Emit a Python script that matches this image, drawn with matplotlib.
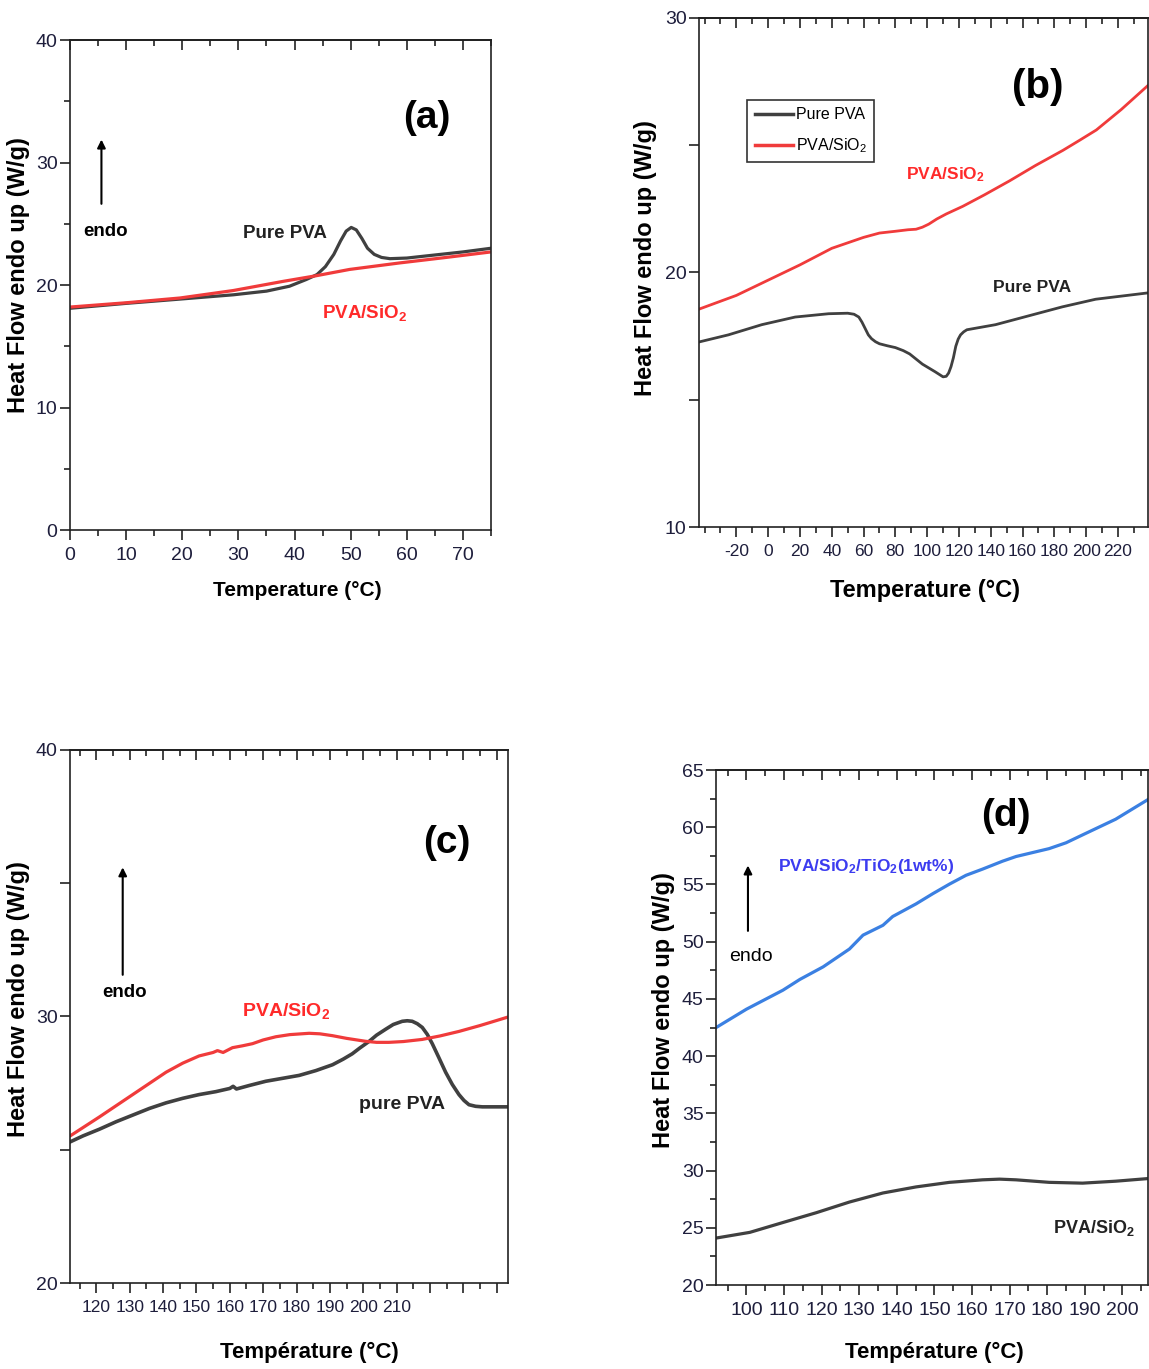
import matplotlib
matplotlib.use('Agg')
import matplotlib.pyplot as plt
from matplotlib.ticker import MultipleLocator, NullFormatter
from matplotlib.lines import Line2D

SANS = ['Liberation Sans', 'DejaVu Sans']
plt.rcParams['font.family'] = SANS
plt.rcParams['mathtext.default'] = 'regular'

# ---- (a) DSC, 0-75 °C ----
a_temp_pva = [0, 10, 19.6, 29.1, 35.0, 39.1, 42.1, 44.0, 45.5, 47.0, 48.2, 49.2, 50.1,
              51.0, 52.0, 53.0, 54.2, 55.5, 57.0, 60.0, 65.0, 70.0, 75.0]
a_hf_pva = [18.1, 18.5, 18.85, 19.2, 19.5, 19.9, 20.45, 20.85, 21.5, 22.5, 23.6, 24.4, 24.7,
            24.5, 23.8, 23.0, 22.5, 22.25, 22.15, 22.2, 22.45, 22.7, 23.0]
a_temp_sio2 = [0, 10, 19.6, 29.1, 38.0, 43.9, 49.8, 58.7, 67.0, 75.0]
a_hf_sio2 = [18.2, 18.55, 18.94, 19.55, 20.3, 20.76, 21.27, 21.8, 22.25, 22.7]
a_xticks = [0, 10, 20, 30, 40, 50, 60, 70]
a_yticks = [0, 10, 20, 30, 40]

# ---- (b) DSC, -40-240 °C ----
b_temp_pva = [-43.5, -25, -4, 17, 38, 50, 54, 57, 59, 61, 63, 65, 67.5, 70, 75, 80, 85, 89,
              93, 97, 101, 105, 108, 110, 112, 113.5, 115, 116.5, 118, 119.5, 121, 123, 125,
              143, 164, 185, 206, 239]
b_hf_pva = [17.27, 17.55, 17.95, 18.25, 18.38, 18.4, 18.36, 18.25, 18.05, 17.8, 17.55, 17.4,
            17.28, 17.2, 17.12, 17.05, 16.93, 16.8, 16.6, 16.4, 16.25, 16.1, 15.98, 15.9,
            15.92, 16.05, 16.3, 16.65, 17.1, 17.38, 17.55, 17.67, 17.75, 17.95, 18.3, 18.65,
            18.95, 19.2]
b_temp_sio2 = [-43.5, -20, 0, 20, 40, 60, 70, 80, 88, 93, 97, 101, 106, 112, 122.4, 136,
               151.8, 168, 185.4, 196, 206.4, 222, 238.9]
b_hf_sio2 = [18.56, 19.1, 19.7, 20.3, 20.95, 21.38, 21.55, 21.62, 21.68, 21.7, 21.78, 21.9,
             22.1, 22.3, 22.6, 23.05, 23.6, 24.2, 24.8, 25.2, 25.6, 26.4, 27.35]
b_xticks = [-20, 0, 20, 40, 60, 80, 100, 120, 140, 160, 180, 200, 220]
b_yticks = [10, 15, 20, 25, 30]
b_ylabels = ['10', '', '20', '', '30']

# ---- (c) DSC, 112-243 °C ----
c_temp_pva = [112.4, 116, 120.9, 125.9, 130.9, 135.9, 140.9, 145.9, 150.8, 155.8, 160, 161,
              162, 165.8, 170.8, 175.8, 180.8, 185.8, 190.8, 194, 196.7, 199, 201.7, 204,
              206.7, 209, 211.7, 213.2, 214.7, 216.2, 217.7, 219.2, 220.7, 222.7, 224.7,
              226.7, 228.7, 230.2, 231.7, 233.7, 235.7, 243.4]
c_hf_pva = [25.31, 25.52, 25.77, 26.05, 26.30, 26.55, 26.76, 26.93, 27.07, 27.18, 27.3, 27.38,
            27.28, 27.41, 27.57, 27.68, 27.79, 27.97, 28.19, 28.4, 28.6, 28.82, 29.06, 29.3,
            29.52, 29.7, 29.82, 29.84, 29.82, 29.73, 29.59, 29.33, 28.98, 28.45, 27.91,
            27.45, 27.07, 26.85, 26.69, 26.63, 26.61, 26.61]
c_temp_sio2 = [112.4, 120.9, 130.9, 140.9, 145.9, 150.8, 155, 156.3, 158, 160.8, 163.8,
               166.8, 170, 173.8, 178, 183.8, 187, 190.8, 195, 200.7, 204, 207.7, 212,
               217.7, 223, 228.7, 235, 243.4]
c_hf_sio2 = [25.54, 26.23, 27.07, 27.91, 28.25, 28.52, 28.65, 28.72, 28.65, 28.83, 28.9,
             28.98, 29.12, 29.24, 29.32, 29.37, 29.35, 29.28, 29.18, 29.07, 29.03, 29.03,
             29.06, 29.14, 29.27, 29.44, 29.66, 29.98]
c_xticks = [120, 130, 140, 150, 160, 170, 180, 190, 200, 210, 220, 230, 240]
c_xlabels = ['120', '130', '140', '150', '160', '170', '180', '190', '200', '210', '', '', '']
c_yticks = [20, 25, 30, 35, 40]
c_ylabels = ['20', '', '30', '', '40']

# ---- (d) DSC, 92-207 °C ----
d_temp_tio2 = [91.9, 100.0, 109.7, 114.2, 120.4, 127.4, 131.0, 136.3, 138.9, 145.1, 149.6,
               154.0, 158.4, 162.8, 168.1, 171.7, 180.5, 185.0, 189.4, 198.2, 206.8]
d_hf_tio2 = [42.49, 44.1, 45.76, 46.7, 47.8, 49.36, 50.57, 51.43, 52.2, 53.3, 54.2, 55.03,
             55.8, 56.34, 57.03, 57.44, 58.13, 58.64, 59.33, 60.7, 62.42]
d_temp_sio2 = [91.9, 100.9, 109.7, 118.6, 127.4, 136.3, 145.1, 154.0, 162.8, 167.3, 171.7,
               180.5, 189.4, 198.2, 206.8]
d_hf_sio2 = [24.1, 24.6, 25.46, 26.32, 27.25, 28.04, 28.57, 28.97, 29.19, 29.25, 29.19,
             28.97, 28.9, 29.07, 29.3]
d_xticks = [100, 110, 120, 130, 140, 150, 160, 170, 180, 190, 200]
d_yticks = [20, 25, 30, 35, 40, 45, 50, 55, 60, 65]

GREY = '#404040'
RED = '#f03b3b'
BLUE = '#3b80e2'
TICK_COLOR = '#1e1e3c'

W, H = 1149, 1369
fig = plt.figure(figsize=(W / 100, H / 100), dpi=100)


def make_axes(left, top, right, bottom):
    return fig.add_axes([left / W, 1 - bottom / H, (right - left) / W, (bottom - top) / H])


def style_axes(ax, xticks, xlabels, xminor, yticks, ylabels, yminor, xsize, ysize=14):
    for side in ['left', 'right', 'top', 'bottom']:
        ax.spines[side].set_linewidth(1.2)
        ax.spines[side].set_color('#222222')
    ax.set_xticks(xticks, labels=xlabels)
    ax.set_yticks(yticks, labels=ylabels)
    ax.xaxis.set_minor_locator(MultipleLocator(xminor))
    ax.yaxis.set_minor_locator(MultipleLocator(yminor))
    ax.tick_params(which='both', direction='out', width=1.2, color='#222222',
                   right=False, top=False, labelcolor=TICK_COLOR, pad=3)
    ax.tick_params(which='major', length=7)
    ax.tick_params(which='minor', length=4)
    ax.tick_params(axis='x', labelsize=xsize, pad=5)
    ax.tick_params(axis='y', labelsize=ysize, pad=2)
    # inward ticks along the top frame
    top = ax.secondary_xaxis('top')
    top.set_xticks(xticks)
    top.xaxis.set_minor_locator(MultipleLocator(xminor))
    top.xaxis.set_major_formatter(NullFormatter())
    top.tick_params(which='both', direction='in', width=1.2, color='#222222')
    top.tick_params(which='major', length=7)
    top.tick_params(which='minor', length=4)
    top.spines['top'].set_linewidth(1.2)


def add_labels(ax, xlabel, xsize, ylab_x, ylab_y, xlab_x, xlab_y):
    ax.set_ylabel('Heat Flow endo up (W/g)', weight='bold', fontsize=17)
    ax.yaxis.set_label_coords(ylab_x, ylab_y)
    ax.set_xlabel(xlabel, weight='bold', fontsize=xsize)
    ax.xaxis.set_label_coords(xlab_x, xlab_y)


def endo_arrow(ax, x, y0, y1):
    ax.annotate('', xy=(x, y1), xytext=(x, y0),
                arrowprops=dict(arrowstyle='-|>', color='black', lw=1.5, mutation_scale=12))


# (a)
ax = make_axes(70, 40, 491, 530)
ax.plot(a_temp_pva, a_hf_pva, color=GREY, lw=2.3, solid_joinstyle='round')
ax.plot(a_temp_sio2, a_hf_sio2, color=RED, lw=2.3, solid_joinstyle='round')
ax.set_xlim(0, 75)
ax.set_ylim(0, 40)
style_axes(ax, a_xticks, [str(v) for v in a_xticks], 5, a_yticks, [str(v) for v in a_yticks], 5, 14)
add_labels(ax, 'Temperature (°C)', 15, -0.095, 0.52, 0.54, -0.105)
ax.text(63.5, 33.6, '(a)', weight='bold', fontsize=28, ha='center', va='center')
ax.text(6.4, 24.4, 'endo', weight='bold', fontsize=13.5, ha='center', va='center')
endo_arrow(ax, 5.6, 26.4, 32.1)
ax.text(38.3, 24.2, 'Pure PVA', weight='bold', fontsize=13.5, ha='center',
        va='center', color='#222222')
ax.text(52.5, 17.7, 'PVA/SiO$_2$', weight='bold', fontsize=13.5, ha='center',
        va='center', color='#ff2a2a')

# (b)
ax = make_axes(699, 18, 1148, 527)
ax.plot(b_temp_pva, b_hf_pva, color=GREY, lw=2.0, solid_joinstyle='round')
ax.plot(b_temp_sio2, b_hf_sio2, color=RED, lw=2.0, solid_joinstyle='round')
ax.set_xlim(-43.5, 238.9)
ax.set_ylim(10, 30)
style_axes(ax, b_xticks, [str(v) for v in b_xticks], 10, b_yticks, b_ylabels, 5, 12.5)
ax.tick_params(axis='y', which='minor', length=0)
add_labels(ax, 'Temperature (°C)', 17, -0.094, 0.528, 0.503, -0.102)
ax.text(169.6, 27.3, '(b)', weight='bold', fontsize=29, ha='center', va='center')
ax.text(111.2, 23.86, 'PVA/SiO$_2$', weight='bold', fontsize=12.5, ha='center',
        va='center', color='#ff2a2a')
ax.text(165.8, 19.42, 'Pure PVA', weight='bold', fontsize=12.5, ha='center',
        va='center', color='#222222')
handles = [Line2D([], [], color=GREY, lw=2.5), Line2D([], [], color=RED, lw=2.5)]
leg = ax.legend(handles, ['Pure PVA', 'PVA/SiO$_2$'], loc='upper left',
                bbox_to_anchor=(0.108, 0.839), frameon=True, fancybox=False,
                edgecolor='black', handlelength=2.4, handletextpad=0.2, borderpad=0.45,
                borderaxespad=0, labelspacing=0.9, prop={'size': 11.5})
leg.get_frame().set_linewidth(1.2)

# (c)
ax = make_axes(70, 750, 508, 1283)
ax.plot(c_temp_pva, c_hf_pva, color=GREY, lw=2.6, solid_joinstyle='round')
ax.plot(c_temp_sio2, c_hf_sio2, color=RED, lw=2.3, solid_joinstyle='round')
ax.set_xlim(112.1, 243.4)
ax.set_ylim(20, 40)
style_axes(ax, c_xticks, c_xlabels, 5, c_yticks, c_ylabels, 5, 12.5)
ax.tick_params(axis='y', which='minor', length=0)
add_labels(ax, 'Température (°C)', 16, -0.091, 0.533, 0.546, -0.111)
ax.text(225.2, 36.5, '(c)', weight='bold', fontsize=28, ha='center', va='center')
ax.text(128.4, 30.9, 'endo', weight='bold', fontsize=13.5, ha='center', va='center')
endo_arrow(ax, 127.9, 31.46, 35.7)
ax.text(176.8, 30.2, 'PVA/SiO$_2$', weight='bold', fontsize=14, ha='center',
        va='center', color='#ff2a2a')
ax.text(211.7, 26.7, 'pure PVA', weight='bold', fontsize=14, ha='center',
        va='center', color='#222222')

# (d)
ax = make_axes(716, 770, 1148, 1285)
ax.plot(d_temp_tio2, d_hf_tio2, color=BLUE, lw=2.3, solid_joinstyle='round')
ax.plot(d_temp_sio2, d_hf_sio2, color=GREY, lw=2.3, solid_joinstyle='round')
ax.set_xlim(91.9, 206.8)
ax.set_ylim(20, 65)
style_axes(ax, d_xticks, [str(v) for v in d_xticks], 5, d_yticks, [str(v) for v in d_yticks], 2.5, 14)
add_labels(ax, 'Température (°C)', 16, -0.095, 0.534, 0.506, -0.111)
ax.text(169, 61.0, '(d)', weight='bold', fontsize=28, ha='center', va='center')
ax.text(131.9, 56.6, 'PVA/SiO$_2$/TiO$_2$(1wt%)', weight='bold', fontsize=12.5,
        ha='center', va='center', color='#3c3cf0')
endo_arrow(ax, 100.4, 50.7, 56.9)
ax.text(101.3, 48.7, 'endo', fontsize=14, ha='center', va='center')
ax.text(192.5, 25.0, 'PVA/SiO$_2$', weight='bold', fontsize=13, ha='center',
        va='center', color='#222222')

fig.savefig('out.png', dpi=100)
